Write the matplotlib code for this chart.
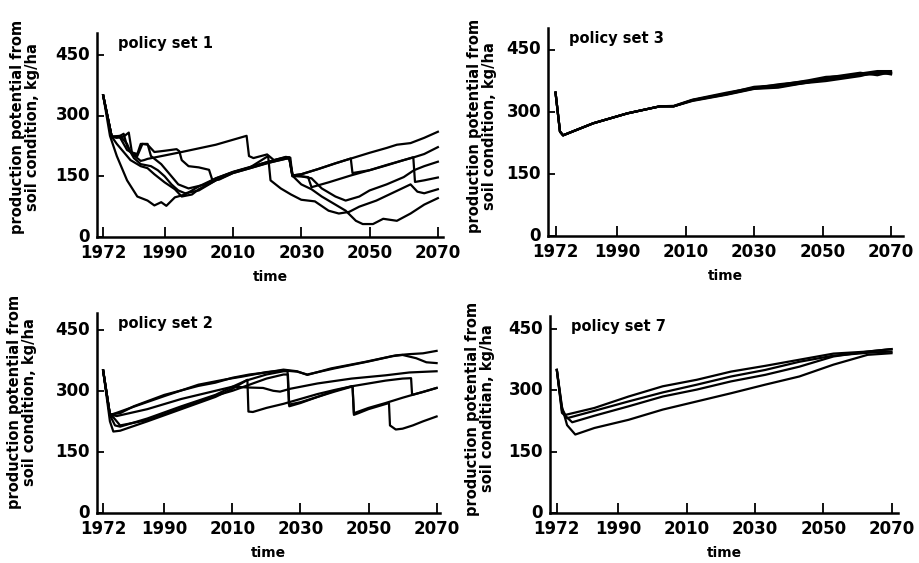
import matplotlib
matplotlib.use("Agg")
import matplotlib.pyplot as plt
from matplotlib.transforms import ScaledTranslation

# ---------------- data ----------------
# policy set 1: six runs (year, value) breakpoints
p1_c1_x = [1972, 1974.5, 1978, 1979.5, 1980.5, 1983, 1984, 1985, 1995, 2005, 2014, 2014.7, 2016, 2020, 2022, 2025.5, 2026.8, 2027.4, 2030, 2035, 2040, 2045, 2050, 2055, 2058, 2062, 2066, 2070]
p1_c1_y = [350, 248, 248, 258, 205, 188, 190, 193, 210, 228, 250, 200, 195, 204, 190, 197, 196, 152, 155, 168, 182, 195, 208, 220, 228, 232, 245, 260]
p1_c2_x = [1972, 1974.5, 1976, 1978, 1979, 1981, 1983, 1986, 1988, 1990, 1992, 1994, 1996, 2000, 2003, 2007, 2010, 2015, 2020, 2025, 2026.5, 2027.4, 2030, 2035, 2040, 2044.5, 2045, 2050, 2055, 2060, 2063, 2066, 2070]
p1_c2_y = [350, 248, 245, 255, 225, 195, 180, 175, 165, 150, 130, 115, 108, 115, 130, 150, 160, 172, 185, 195, 193, 152, 155, 168, 182, 194, 158, 165, 177, 190, 197, 205, 222]
p1_c3_x = [1972, 1974.5, 1977, 1979, 1982, 1983.5, 1985, 1987, 1990, 1993.5, 1994.3, 1995, 1997, 2000, 2003, 2004, 2006, 2010, 2015, 2020, 2025, 2026.5, 2027.4, 2030, 2032, 2033, 2038, 2044.5, 2050, 2055, 2060, 2062.8, 2063.3, 2066, 2070]
p1_c3_y = [350, 248, 245, 215, 200, 230, 228, 210, 213, 217, 212, 190, 175, 172, 166, 140, 142, 158, 170, 182, 193, 195, 150, 150, 148, 123, 135, 152, 165, 178, 190, 197, 136, 140, 147]
p1_c4_x = [1972, 1974.5, 1976, 1978, 1980, 1983, 1985, 1987, 1990, 1993, 1995, 1998, 2000, 2005, 2010, 2015, 2020, 2025, 2026.5, 2027.4, 2030, 2033, 2036, 2040, 2043, 2047, 2050, 2055, 2060, 2063, 2066, 2070]
p1_c4_y = [350, 248, 230, 210, 190, 175, 170, 155, 135, 118, 100, 105, 118, 140, 158, 170, 183, 192, 197, 152, 150, 145, 120, 100, 90, 100, 115, 130, 148, 165, 175, 186]
p1_c5_x = [1972, 1974, 1976, 1979, 1982, 1985, 1987, 1989, 1990.5, 1993, 1996, 2000, 2005, 2010, 2015, 2020.3, 2021, 2024, 2027, 2030, 2034, 2038, 2041, 2044, 2047, 2052, 2057, 2062, 2064, 2066, 2070]
p1_c5_y = [350, 250, 200, 140, 100, 90, 78, 86, 77, 98, 105, 125, 145, 160, 172, 200, 140, 120, 105, 92, 88, 65, 58, 62, 75, 90, 110, 130, 112, 108, 118]
p1_c6_x = [1972, 1974.5, 1977, 1979, 1980, 1982, 1983, 1985, 1986, 1989, 1992, 1994, 1997, 2002, 2005, 2010, 2015, 2020, 2025.5, 2026.5, 2027.6, 2030, 2033, 2036, 2040, 2043, 2046, 2048, 2051, 2054, 2058, 2062, 2066, 2070]
p1_c6_y = [350, 248, 250, 230, 210, 205, 230, 230, 200, 180, 150, 130, 120, 130, 145, 161, 173, 185, 198, 196, 150, 130, 118, 100, 80, 65, 40, 32, 32, 45, 40, 58, 80, 96]

# policy set 2
p2_c1_x = [1972, 1974, 1977, 1981, 1990, 2000, 2005, 2010, 2015, 2020, 2025, 2029, 2032, 2039, 2049, 2058, 2062, 2066, 2070]
p2_c1_y = [350, 242, 245, 262, 290, 312, 320, 332, 340, 345, 352, 348, 339, 355, 371, 387, 390, 392, 398]
p2_c2_x = [1972, 1974, 1980, 1990, 2000, 2008, 2013, 2020, 2025, 2029, 2032, 2040, 2050, 2057, 2060, 2064, 2067, 2070]
p2_c2_y = [350, 240, 258, 287, 315, 328, 335, 346, 350, 347, 340, 355, 372, 385, 388, 380, 370, 368]
p2_c3_x = [1972, 1974, 1976, 1985, 1995, 2005, 2010, 2015, 2019, 2022, 2024, 2027, 2035, 2045, 2055, 2062, 2070]
p2_c3_y = [350, 242, 238, 255, 280, 300, 310, 308, 307, 300, 298, 305, 318, 330, 338, 345, 348]
p2_c4_x = [1972, 1974, 1975.5, 1977, 1985, 1995, 2005, 2010, 2014, 2020, 2025, 2026.2, 2026.6, 2030, 2035, 2040, 2045, 2050, 2055, 2060, 2062.5, 2062.8, 2066, 2070]
p2_c4_y = [350, 240, 215, 212, 232, 262, 290, 310, 325, 340, 348, 348, 266, 272, 285, 300, 311, 318, 325, 330, 331, 290, 297, 307]
p2_c5_x = [1972, 1974, 1975, 1977, 1985, 1995, 2005, 2010, 2014.4, 2014.7, 2016, 2020, 2025, 2030, 2035, 2040, 2045, 2045.3, 2045.7, 2047, 2050, 2056, 2056.3, 2058, 2060, 2063, 2066, 2070]
p2_c5_y = [350, 225, 200, 202, 225, 255, 285, 305, 327, 249, 248, 258, 268, 280, 292, 302, 311, 311, 241, 245, 255, 270, 215, 205, 207, 215, 225, 237]
p2_c6_x = [1972, 1974, 1975, 1977, 1985, 1995, 2005, 2010, 2015, 2020, 2025, 2026.3, 2026.7, 2030, 2035, 2040, 2045, 2045.3, 2045.7, 2050, 2055, 2060, 2065, 2070]
p2_c6_y = [350, 240, 235, 215, 228, 258, 288, 300, 315, 330, 340, 340, 262, 270, 285, 298, 310, 310, 245, 258, 270, 283, 295, 307]

# policy set 3
p3_x = [1972, 1973.3, 1974.2, 1983, 1993, 2002.5, 2006.5, 2012, 2022, 2030, 2037, 2046, 2051, 2056, 2061, 2066, 2070]
p3_c1_y = [346, 252, 243, 272, 296, 313, 313, 328, 344, 360, 364, 376, 384, 386, 392, 398, 398]
p3_c2_y = [346, 252, 243, 272, 296, 313, 313, 327, 342, 356, 360, 372, 378, 382, 388, 392, 394]
p3_c3_y = [346, 252, 243, 272, 296, 313, 314, 329, 346, 358, 362, 370, 374, 380, 386, 396, 390]
p3_c4_y = [346, 252, 243, 272, 296, 313, 313, 328, 343, 357, 366, 374, 382, 388, 394, 388, 396]
p3_c5_y = [346, 252, 243, 272, 296, 313, 313, 326, 341, 355, 358, 371, 380, 384, 390, 394, 392]

# policy set 7
p7_c1_x = [1972, 1973.5, 1974.5, 1983, 1993, 2003, 2013, 2023, 2033, 2043, 2053, 2063, 2070]
p7_c1_y = [350, 255, 240, 257, 285, 310, 326, 346, 360, 375, 390, 395, 401]
p7_c2_x = [1972, 1973.5, 1975, 1983, 1993, 2003, 2013, 2023, 2033, 2043, 2053, 2063, 2070]
p7_c2_y = [350, 250, 232, 250, 273, 295, 314, 334, 350, 370, 385, 392, 395]
p7_c3_x = [1972, 1973.5, 1976.5, 1983, 1993, 2003, 2013, 2023, 2033, 2043, 2053, 2063, 2070]
p7_c3_y = [350, 245, 222, 238, 261, 285, 302, 322, 338, 358, 383, 395, 401]
p7_c4_x = [1972, 1973.5, 1975, 1977.4, 1983, 1993, 2003, 2013, 2023, 2033, 2043, 2053, 2063, 2070]
p7_c4_y = [350, 260, 215, 192, 208, 228, 253, 273, 293, 314, 334, 363, 387, 391]

x_ticks = [1972, 1990, 2010, 2030, 2050, 2070]
y_ticks = [0, 150, 300, 450]

panels = [
    dict(title="policy set 1",
         curves=[(p1_c1_x, p1_c1_y), (p1_c2_x, p1_c2_y), (p1_c3_x, p1_c3_y),
                 (p1_c4_x, p1_c4_y), (p1_c5_x, p1_c5_y), (p1_c6_x, p1_c6_y)],
         ylabel="production potential from\nsoil condition, kg/ha",
         rect=(97, 33, 443, 237), xlim=(1970.2, 2071.5), ylim=(0, 504),
         lab=(-0.165, 0.54)),
    dict(title="policy set 3",
         curves=[(p3_x, p3_c1_y), (p3_x, p3_c2_y), (p3_x, p3_c3_y),
                 (p3_x, p3_c4_y), (p3_x, p3_c5_y)],
         ylabel="production potential from\nsoil condition, kg/ha",
         rect=(548, 28, 903, 236), xlim=(1969.8, 2073.5), ylim=(0, 502),
         lab=(-0.144, 0.53)),
    dict(title="policy set 2",
         curves=[(p2_c1_x, p2_c1_y), (p2_c2_x, p2_c2_y), (p2_c3_x, p2_c3_y),
                 (p2_c4_x, p2_c4_y), (p2_c5_x, p2_c5_y), (p2_c6_x, p2_c6_y)],
         ylabel="production potential from\nsoil condition, kg/ha",
         rect=(97, 313, 440, 513), xlim=(1970.2, 2071.0), ylim=(0, 491),
         lab=(-0.175, 0.555)),
    dict(title="policy set 7",
         curves=[(p7_c1_x, p7_c1_y), (p7_c2_x, p7_c2_y), (p7_c3_x, p7_c3_y),
                 (p7_c4_x, p7_c4_y)],
         ylabel="production potential from\nsoil conditian, kg/ha",
         rect=(550, 316, 898, 513), xlim=(1970.0, 2071.9), ylim=(0, 482),
         lab=(-0.158, 0.53)),
]

W, H = 920, 563
fig = plt.figure(figsize=(W / 100, H / 100), dpi=100)
plt.rcParams['font.family'] = ['DejaVu Sans']

for p in panels:
    x0, y0, x1, y1 = p["rect"]
    ax = fig.add_axes([x0 / W, 1 - y1 / H, (x1 - x0) / W, (y1 - y0) / H])
    for xs, ys in p["curves"]:
        ax.plot(xs, ys, color="black", lw=1.6, solid_joinstyle="round")
    ax.set_xlim(*p["xlim"])
    ax.set_ylim(*p["ylim"])
    ax.set_xticks(x_ticks)
    ax.set_yticks(y_ticks)
    ax.set_xticklabels([str(t) for t in x_ticks], fontsize=12, fontweight="bold")
    ax.set_yticklabels([str(t) for t in y_ticks], fontsize=12, fontweight="bold")
    ax.tick_params(axis="x", direction="in", length=7, width=1.3, pad=5)
    ax.tick_params(axis="y", direction="in", length=5, width=1.3, pad=5)
    off = ScaledTranslation(0, 1.5 / 72, fig.dpi_scale_trans)
    for lbl in ax.get_yticklabels():
        lbl.set_transform(lbl.get_transform() + off)
    for s in ("top", "right"):
        ax.spines[s].set_visible(False)
    for s in ("left", "bottom"):
        ax.spines[s].set_linewidth(1.8)
    ax.set_xlabel("time", fontsize=10, fontweight="bold", labelpad=6)
    ax.set_ylabel(p["ylabel"], fontsize=10.5, fontweight="bold", linespacing=1.0)
    ax.yaxis.set_label_coords(*p["lab"])
    ax.text(0.06, 0.985, p["title"], transform=ax.transAxes, fontsize=10.5,
            fontweight="bold", va="top", ha="left")

fig.savefig("out.png", dpi=100)
